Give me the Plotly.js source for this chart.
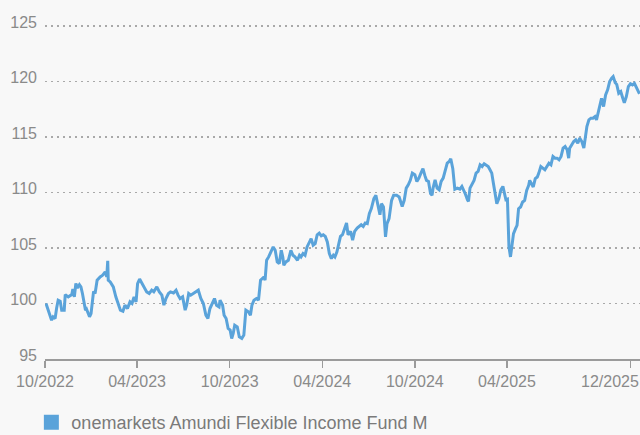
<!DOCTYPE html>
<html>
<head>
<meta charset="utf-8">
<script src="https://cdn.plot.ly/plotly-3.0.1.min.js"></script>
<style>
html,body{margin:0;padding:0;background:#f8f8f8;}
#chart{width:640px;height:435px;}
</style>
</head>
<body>
<div id="chart"></div>
<script>
// ---- data ----
const seriesName = "onemarkets Amundi Flexible Income Fund M";

const dates2022 = [
"2022-10-03","2022-10-11","2022-10-14","2022-10-17","2022-10-21","2022-10-24","2022-10-27","2022-10-31",
"2022-11-03","2022-11-08","2022-11-10","2022-11-16","2022-11-23","2022-11-25","2022-11-28",
"2022-12-01","2022-12-04","2022-12-08","2022-12-11","2022-12-14","2022-12-17","2022-12-20","2022-12-22","2022-12-28","2022-12-31"];
const values2022 = [
100.0,98.95,98.5,98.8,98.65,99.6,100.3,100.2,
99.4,99.4,100.8,100.6,100.8,101.3,100.6,
101.8,101.4,101.7,101.5,100.9,100.0,99.4,99.5,98.8,99.1];

const dates2023 = [
"2023-01-05","2023-01-08","2023-01-12","2023-01-18","2023-01-23","2023-01-28","2023-01-31",
"2023-02-02","2023-02-03","2023-02-07","2023-02-13","2023-02-18","2023-02-23","2023-02-27",
"2023-03-04","2023-03-08","2023-03-13","2023-03-18","2023-03-22","2023-03-26","2023-03-30",
"2023-04-02","2023-04-06","2023-04-11","2023-04-15","2023-04-20","2023-04-25","2023-04-30",
"2023-05-04","2023-05-10","2023-05-15","2023-05-20","2023-05-24","2023-05-28",
"2023-06-02","2023-06-06","2023-06-12","2023-06-17","2023-06-21","2023-06-25","2023-06-30",
"2023-07-05","2023-07-08","2023-07-12","2023-07-16","2023-07-21","2023-07-26","2023-07-31",
"2023-08-05","2023-08-10","2023-08-15","2023-08-19","2023-08-23","2023-08-28",
"2023-09-01","2023-09-05","2023-09-10","2023-09-12","2023-09-17","2023-09-20","2023-09-24","2023-09-28",
"2023-10-02","2023-10-05","2023-10-08","2023-10-11","2023-10-16","2023-10-20","2023-10-25","2023-10-29",
"2023-11-02","2023-11-07","2023-11-11","2023-11-14","2023-11-18","2023-11-23","2023-11-27",
"2023-12-01","2023-12-05","2023-12-08","2023-12-10","2023-12-13","2023-12-17","2023-12-21","2023-12-26","2023-12-30"];
const values2023 = [
101.1,100.9,102.1,102.4,102.55,102.85,102.4,
103.85,102.1,101.95,101.5,100.6,100.0,99.4,
99.3,99.85,99.55,100.15,100.0,100.6,100.15,
101.8,102.2,101.8,101.5,101.05,100.9,101.2,
101.05,101.5,101.05,100.75,99.85,100.45,
100.9,101.05,100.95,101.2,100.75,100.45,100.6,
99.4,99.85,100.9,100.75,100.9,101.05,101.2,
100.45,100.0,98.95,98.65,99.55,100.0,
100.45,99.85,99.7,100.3,99.85,98.95,98.65,97.75,
97.6,96.85,97.3,98.05,97.9,97.0,96.85,97.15,
99.4,99.25,98.95,99.85,100.3,100.45,100.3,
102.1,102.25,102.4,102.1,103.9,104.2,104.65,105.1,104.8];

const dates2024 = [
"2024-01-03","2024-01-07","2024-01-11","2024-01-14","2024-01-16","2024-01-20","2024-01-25","2024-01-30",
"2024-02-03","2024-02-07","2024-02-12","2024-02-16","2024-02-19","2024-02-23","2024-02-27",
"2024-03-02","2024-03-06","2024-03-10","2024-03-14","2024-03-18","2024-03-22","2024-03-26","2024-03-30",
"2024-04-03","2024-04-07","2024-04-11","2024-04-15","2024-04-19","2024-04-23","2024-04-26","2024-04-30",
"2024-05-03","2024-05-07","2024-05-11","2024-05-15","2024-05-19","2024-05-22","2024-05-27","2024-05-31",
"2024-06-04","2024-06-09","2024-06-13","2024-06-17","2024-06-21","2024-06-25","2024-06-29",
"2024-07-03","2024-07-07","2024-07-12","2024-07-16","2024-07-21","2024-07-24","2024-07-27","2024-07-31",
"2024-08-04","2024-08-07","2024-08-11","2024-08-16","2024-08-20","2024-08-26","2024-08-31",
"2024-09-06","2024-09-10","2024-09-14","2024-09-18","2024-09-22","2024-09-26",
"2024-10-01","2024-10-05","2024-10-09","2024-10-13","2024-10-17","2024-10-21","2024-10-24","2024-10-28",
"2024-11-01","2024-11-04","2024-11-06","2024-11-10","2024-11-14","2024-11-18","2024-11-22","2024-11-26","2024-11-30",
"2024-12-04","2024-12-08","2024-12-11","2024-12-15","2024-12-19","2024-12-24","2024-12-29"];
const values2024 = [
103.75,103.6,104.8,104.2,103.45,103.75,103.9,104.8,
104.35,104.2,103.9,104.35,104.2,104.5,104.35,
105.1,105.55,105.85,105.25,105.4,106.2,106.35,106.1,
106.2,106.05,105.55,104.5,104.05,104.35,104.2,104.65,
105.4,106.05,106.2,106.8,107.25,106.2,106.5,105.7,
106.5,106.8,106.95,107.1,106.95,107.25,107.2,
108.1,108.55,109.45,109.75,108.55,108.0,109.0,108.7,
106.0,107.2,107.65,109.3,109.75,109.75,109.6,
108.75,109.3,110.4,110.7,111.1,111.75,
111.6,111.0,111.3,111.75,112.15,111.5,111.1,111.0,
109.9,109.75,110.4,111.15,110.4,110.25,111.0,111.3,111.9,
112.65,112.8,113.05,112.15,110.3,110.4,110.3];

const dates2025 = [
"2025-01-02","2025-01-05","2025-01-09","2025-01-13","2025-01-15","2025-01-18","2025-01-22","2025-01-26","2025-01-30",
"2025-02-03","2025-02-07","2025-02-11","2025-02-15","2025-02-19","2025-02-23","2025-02-26",
"2025-03-02","2025-03-05","2025-03-09","2025-03-12","2025-03-16","2025-03-20","2025-03-24","2025-03-27","2025-03-30",
"2025-04-02","2025-04-03","2025-04-05","2025-04-08","2025-04-11","2025-04-14","2025-04-18","2025-04-21","2025-04-24","2025-04-28",
"2025-05-02","2025-05-06","2025-05-10","2025-05-14","2025-05-16","2025-05-23","2025-05-27","2025-05-31",
"2025-06-03","2025-06-07","2025-06-11","2025-06-15","2025-06-19","2025-06-23","2025-06-27",
"2025-07-01","2025-07-05","2025-07-09","2025-07-13","2025-07-17","2025-07-21","2025-07-25","2025-07-29",
"2025-08-01","2025-08-03","2025-08-07","2025-08-11","2025-08-15","2025-08-19","2025-08-23","2025-08-27","2025-08-31",
"2025-09-03","2025-09-06","2025-09-10","2025-09-14","2025-09-18","2025-09-22","2025-09-25","2025-09-29",
"2025-10-02","2025-10-05","2025-10-09","2025-10-13","2025-10-17","2025-10-21","2025-10-25","2025-10-28",
"2025-11-01","2025-11-04","2025-11-08","2025-11-12","2025-11-16","2025-11-19","2025-11-23","2025-11-27",
"2025-12-01","2025-12-05","2025-12-09","2025-12-13","2025-12-17","2025-12-19"];
const values2025 = [
110.55,110.3,109.85,109.35,109.2,110.4,110.8,111.1,111.75,
111.9,112.5,112.35,112.6,112.5,112.35,112.1,
111.75,110.9,109.6,109.0,109.45,110.25,110.55,109.85,109.35,
109.4,107.25,105.1,104.2,105.4,106.3,106.75,107.05,108.55,108.7,
109.15,109.3,110.2,110.65,111.1,110.5,111.25,111.4,
111.75,112.35,112.2,112.05,112.35,112.65,112.5,
113.25,113.1,113.1,112.95,113.25,114.0,114.15,113.85,
113.1,114.0,114.3,114.6,114.75,114.45,114.9,114.6,114.0,
114.9,115.95,116.55,116.7,116.7,116.85,116.55,117.3,
118.05,118.5,117.75,118.8,119.25,120.0,120.3,120.45,
119.9,119.75,118.95,119.1,118.5,118.1,118.65,119.55,
119.8,119.7,119.85,119.4,119.1,118.9];

const tickDates  = ["2022-10-01","2023-04-01","2023-10-01","2024-04-01","2024-10-01","2025-04-01","2025-12-01"];
const tickLabels = ["10/2022","04/2023","10/2023","04/2024","10/2024","04/2025","12/2025"];
const yTicks = [95,100,105,110,115,120,125];

// ---- chart ----
const dates = [].concat(dates2022, dates2023, dates2024, dates2025);
const values = [].concat(values2022, values2023, values2024, values2025);

const lineColor = "#5aa3da";
const labelColor = "#8a8a8a";
const tickFont = {family: "Liberation Sans, Arial, sans-serif", size: 16, color: labelColor};

// the last tick label sits at the right edge; it is drawn right-aligned so it stays inside the picture
const lastIdx = tickLabels.length - 1;
const tickTextShown = tickLabels.map((t, i) => i === lastIdx ? "" : t);

const traces = [
  {
    type: "scatter", mode: "lines", x: dates, y: values,
    line: {color: lineColor, width: 3}, showlegend: false, hoverinfo: "skip"
  },
  {
    type: "scatter", mode: "markers", x: [null], y: [null], name: seriesName,
    marker: {symbol: "square", size: 15, color: lineColor, line: {width: 0}},
    showlegend: true
  }
];

const layout = {
  width: 640, height: 435,
  paper_bgcolor: "#f8f8f8", plot_bgcolor: "#f8f8f8",
  margin: {l: 45, r: 0, t: 15, b: 76, pad: 0, autoexpand: false},
  font: {family: "Liberation Sans, Arial, sans-serif", color: labelColor, size: 16},
  xaxis: {
    type: "date", range: ["2022-10-01", "2025-12-20"],
    tickmode: "array", tickvals: tickDates, ticktext: tickTextShown,
    showgrid: false, zeroline: false,
    showline: true, linecolor: "#9b9b9b", linewidth: 1.5,
    ticks: "outside", ticklen: 7, tickwidth: 1.5, tickcolor: "#9b9b9b",
    tickfont: tickFont
  },
  yaxis: {
    range: [95, 126], tickmode: "array", tickvals: yTicks,
    showgrid: true, gridcolor: "#a9a9a9", gridwidth: 1.5, griddash: "2px,4px",
    zeroline: false, showline: false, ticks: "",
    ticklabelstandoff: 7, ticklabelshift: -4,
    tickfont: tickFont
  },
  annotations: [{
    text: tickLabels[lastIdx], xref: "paper", yref: "paper",
    x: 1, y: 0, xanchor: "right", yanchor: "middle", yshift: -22,
    showarrow: false, font: tickFont, borderpad: 0
  }],
  legend: {
    orientation: "h", xref: "container", yref: "paper",
    x: 0.049, y: -0.131, xanchor: "left", yanchor: "top",
    bgcolor: "rgba(0,0,0,0)",
    font: {family: "Liberation Sans, Arial, sans-serif", size: 18, color: "#7a7a7a"}
  }
};

Plotly.newPlot("chart", traces, layout, {displayModeBar: false, staticPlot: true});
</script>
</body>
</html>
